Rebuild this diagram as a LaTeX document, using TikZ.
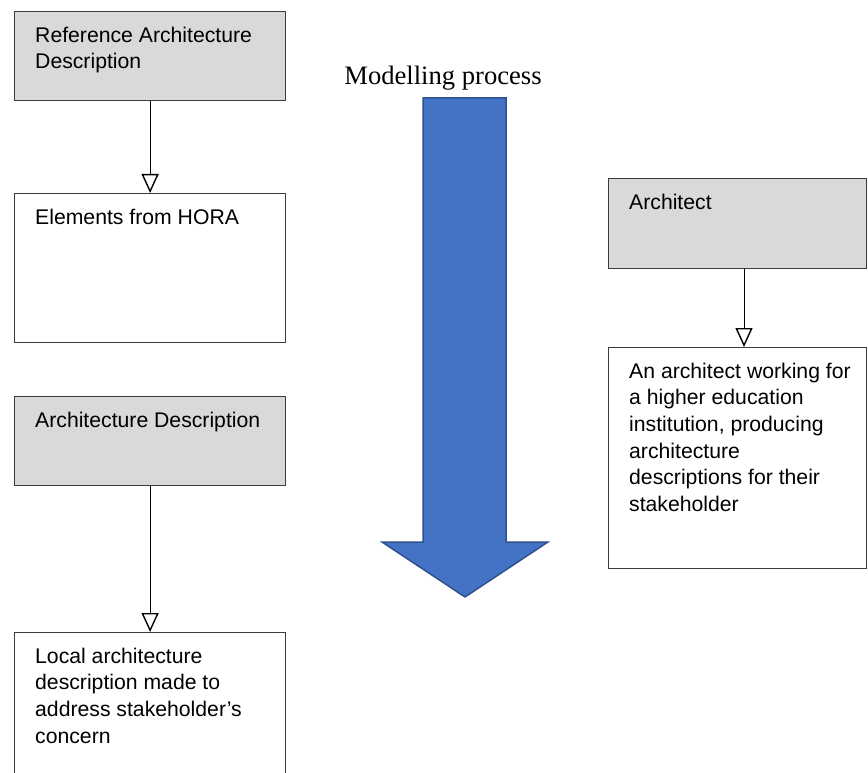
\documentclass[tikz,border=0pt]{standalone}
\usepackage{fontspec}
\setmainfont{Liberation Sans}
\newfontfamily\serifface{Liberation Serif}
\usetikzlibrary{arrows.meta,calc}

\definecolor{boxline}{HTML}{3C3C3C}
\definecolor{boxfill}{HTML}{D9D9D9}
\definecolor{arrowfill}{HTML}{4472C4}
\definecolor{arrowline}{HTML}{2F528F}

\tikzset{
  box/.style={draw=boxline, line width=1.2pt, anchor=north west, inner sep=0pt},
  greybox/.style={box, fill=boxfill},
  whitebox/.style={box, fill=white},
  txt/.style={anchor=north west, inner sep=0pt, align=left, text=black,
    font=\fontsize{21.2}{26.7}\selectfont},
  link/.style={line width=1pt, draw=black,
    -{Triangle[open, length=19pt, width=17pt, line width=1.4pt]}},
  bigarrow/.style={fill=arrowfill, draw=arrowline, line width=1.5pt, line join=miter},
}

\begin{document}
\begin{tikzpicture}[x=1pt, y=-1pt]
  \useasboundingbox (0,0) rectangle (868,773);
  \clip (0,0) rectangle (868,773);

  % left column
  \node[greybox, minimum width=271pt, minimum height=89pt] (rad) at (14,11) {};
  \node[txt] (radtxt) at ($(rad.north west)+(21,15.5)$) {Reference Architecture\\Description};

  \node[whitebox, minimum width=271pt, minimum height=149pt] (hora) at (14,193) {};
  \node[txt] (horatxt) at ($(hora.north west)+(21,15.5)$) {Elements from HORA};

  \node[greybox, minimum width=271pt, minimum height=89pt] (ad) at (14,396) {};
  \node[txt] (adtxt) at ($(ad.north west)+(21,15.5)$) {Architecture Description};

  \node[whitebox, minimum width=271pt, minimum height=170pt] (local) at (14,632) {};
  \node[txt] (localtxt) at ($(local.north west)+(21,15.5)$) {Local architecture\\description made to\\address stakeholder’s\\concern};

  \draw[link] (rad.south) -- (hora.north);
  \draw[link] (ad.south) -- (local.north);

  % right column
  \node[greybox, minimum width=258pt, minimum height=90pt] (arch) at (608,178) {};
  \node[txt] (archtxt) at ($(arch.north west)+(21,15.5)$) {Architect};

  \node[whitebox, minimum width=258pt, minimum height=221pt] (archdesc) at (608,347) {};
  \node[txt] (archdesctxt) at ($(archdesc.north west)+(21,15.5)$) {An architect working for\\a higher education\\institution, producing\\architecture\\descriptions for their\\stakeholder};

  \coordinate (rx) at (744,0);
  \draw[link] (arch.south -| rx) -- (archdesc.north -| rx);

  % modelling process arrow
  \node[anchor=base, inner sep=0pt, font=\serifface\fontsize{26.6}{30}\selectfont] (mp) at (443,85) {Modelling process};
  \draw[bigarrow] (423,98) -- (506,98) -- (506,542) -- (548,542) -- (465,597)
    -- (382,542) -- (423,542) -- cycle;
\end{tikzpicture}
\end{document}
